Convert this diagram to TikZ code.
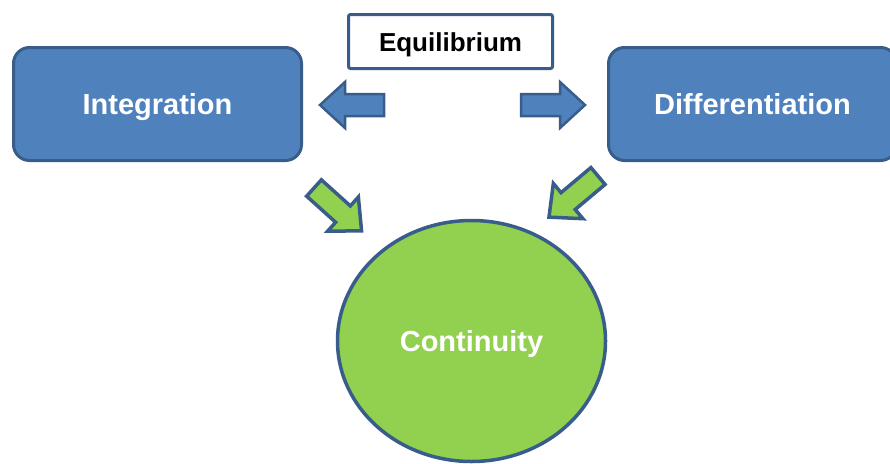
\documentclass[tikz,border=0pt]{standalone}
\usepackage{fontspec}
\setmainfont{Liberation Sans}
\usepackage{tikz}
\usetikzlibrary{shapes.geometric}
\usepackage{xcolor}
\definecolor{boxblue}{HTML}{4F81BD}
\definecolor{edgeblue}{HTML}{385D8A}
\definecolor{leafgreen}{HTML}{92D050}

\tikzset{
  blockarr/.pic={
    \path[pic actions] (0,-11) -- (39,-11) -- (39,-23) -- (64,0)
      -- (39,23) -- (39,11) -- (0,11) -- cycle;
  }
}

\begin{document}
\begin{tikzpicture}[
  x=1pt, y=-1pt,
  font=\fontsize{29}{34}\selectfont\bfseries,
  every node/.style={align=center, text height=21pt, text depth=0pt},
  box/.style={draw=edgeblue, line width=3pt, fill=boxblue, text=white,
              rounded corners=16pt, minimum width=288pt, minimum height=113pt},
  label box/.style={draw=edgeblue, line width=3pt, fill=white, rounded corners=2pt,
                    minimum width=204pt, minimum height=54pt, text height=19pt,
                    font=\fontsize{26}{30}\selectfont\bfseries},
  core/.style={ellipse, draw=edgeblue, line width=3.5pt, fill=leafgreen, text=white,
               minimum width=268pt, minimum height=241pt, inner sep=0pt},
  bluearr/.style={draw=edgeblue, fill=boxblue, line width=2.5pt},
  greenarr/.style={draw=edgeblue, fill=leafgreen, line width=3.5pt}
]
\clip (0,0) rectangle (890,463);

\node[box] (integ) at (157.5,104) {Integration};
\node[box] (diff) at (752.5,104) {Differentiation};
\node[label box] (equil) at (450.5,41.5) {Equilibrium};
\node[core] (cont) at (471.5,341) {Continuity};

% block arrows
\pic[bluearr, rotate=180] at (384,105) {blockarr};
\pic[bluearr] at (521,105) {blockarr};
\pic[greenarr, rotate=-42] at (314,188) {blockarr};
\pic[greenarr, rotate=-140] at (598,176) {blockarr};
\end{tikzpicture}
\end{document}
